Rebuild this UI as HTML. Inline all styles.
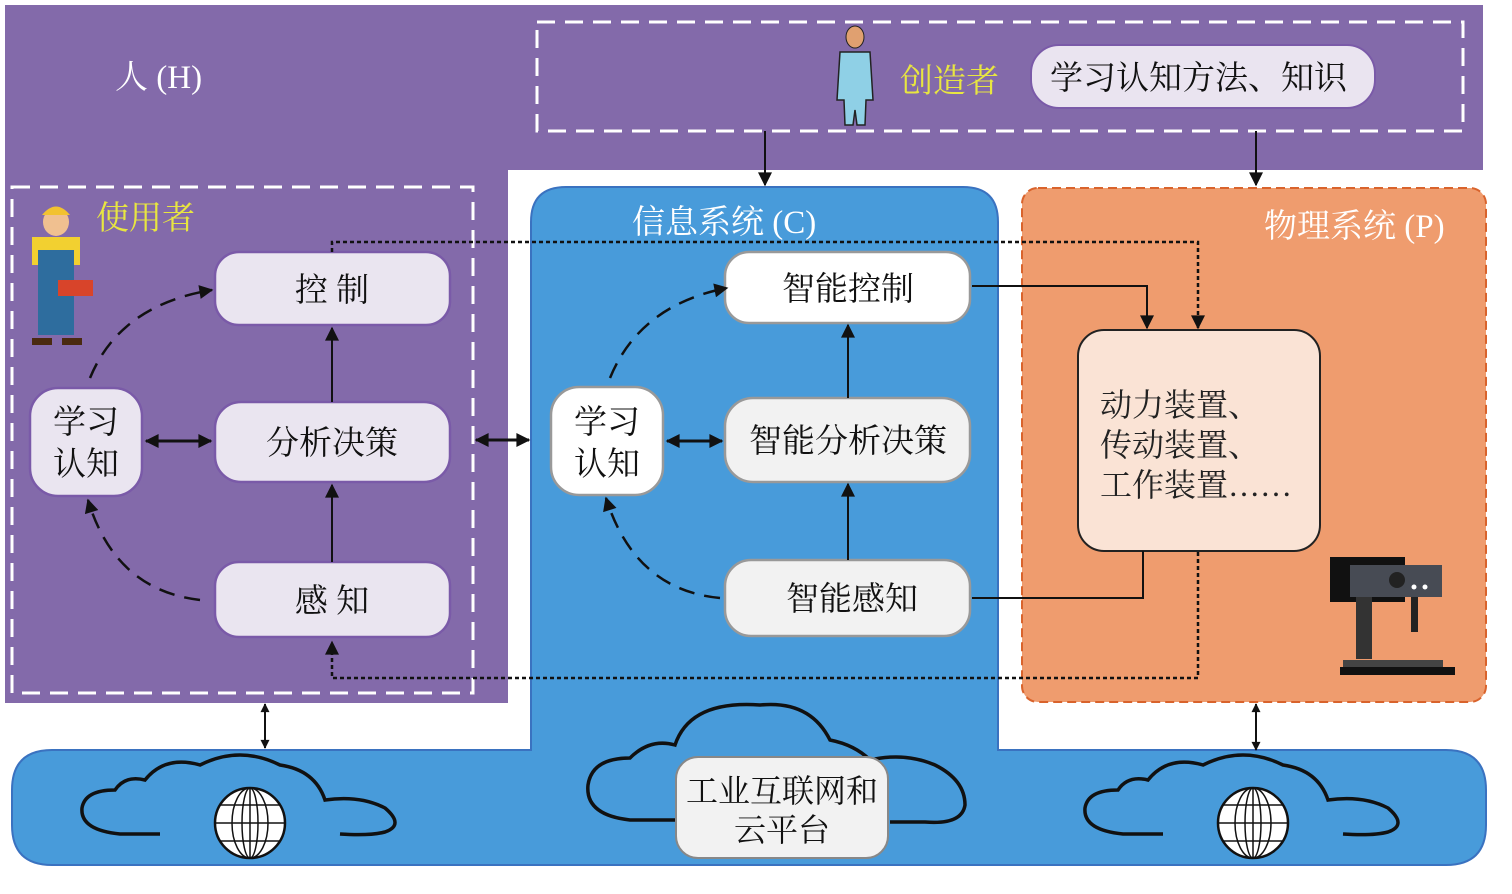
<!DOCTYPE html>
<html><head><meta charset="utf-8"><style>
html,body{margin:0;padding:0;background:#fff;width:1512px;height:894px;overflow:hidden}
text{font-family:"Liberation Serif","Noto Serif CJK SC",serif}
</style></head><body>
<svg width="1512" height="894" viewBox="0 0 1512 894" xmlns="http://www.w3.org/2000/svg">
<defs>
<marker id="b" viewBox="0 0 10 10" refX="9" refY="5" markerWidth="20" markerHeight="14" orient="auto-start-reverse" markerUnits="userSpaceOnUse"><path d="M0,0L10,5L0,10z" fill="#111"/></marker>
<marker id="c" viewBox="0 0 10 10" refX="9" refY="5" markerWidth="14" markerHeight="9" orient="auto-start-reverse" markerUnits="userSpaceOnUse"><path d="M0,0L10,5L0,10z" fill="#111"/></marker>
</defs>
<path d="M5,5H1483V170H508V703H5Z" fill="#836AAA"/>
<path d="M531,750V222Q531,187 566,187H963Q998,187 998,222V750H1446Q1486,750 1486,790V825Q1486,865 1446,865H52Q12,865 12,825V790Q12,750 52,750Z" fill="#489BDA" stroke="#3A72C0" stroke-width="2"/>
<rect x="1022" y="188" width="464" height="514" rx="16" fill="#EF9C6E" stroke="#D9632C" stroke-width="2" stroke-dasharray="9,5"/>
<rect x="537" y="22" width="926" height="109" fill="none" stroke="#fff" stroke-width="3" stroke-dasharray="18,10"/>
<rect x="12" y="187" width="461" height="506" fill="none" stroke="#fff" stroke-width="3" stroke-dasharray="18,10"/>
<text x="115" y="88" font-size="33" fill="#fff">人 (H)</text>
<text x="900" y="92" font-size="33" fill="#E8E640">创造者</text>
<text x="96" y="229" font-size="33" fill="#E8E640">使用者</text>
<text x="632" y="233" font-size="33" fill="#fff">信息系统 (C)</text>
<text x="1264" y="237" font-size="33" fill="#fff">物理系统 (P)</text>
<g>
<ellipse cx="855" cy="37" rx="9" ry="11" fill="#E0A070" stroke="#222"/>
<path d="M840,52H870L873,100H866L865,125H857L855,110L853,125H845L844,100H837Z" fill="#8FD0E6" stroke="#222" stroke-width="1.5"/>
</g>
<rect x="1031" y="45" width="344" height="63" rx="28" fill="#EAE4F0" stroke="#7A5AA8" stroke-width="2"/>
<text x="1050" y="89" font-size="33" fill="#111">学习认知方法、知识</text>
<g>
<ellipse cx="56" cy="222" rx="13" ry="14" fill="#F0C090"/>
<path d="M42,215Q56,198 70,215Z" fill="#F2C230"/>
<rect x="32" y="237" width="48" height="28" fill="#F2D030"/>
<rect x="38" y="250" width="36" height="85" fill="#2E6D9E"/>
<rect x="58" y="280" width="35" height="16" fill="#D8442A"/>
<rect x="32" y="338" width="20" height="7" fill="#4a2a10"/><rect x="62" y="338" width="20" height="7" fill="#4a2a10"/>
</g>
<g fill="#EAE5F0" stroke="#7A5AA8" stroke-width="2.5">
<rect x="215" y="252" width="235" height="73" rx="24"/>
<rect x="215" y="402" width="235" height="80" rx="26"/>
<rect x="215" y="562" width="235" height="75" rx="24"/>
<rect x="30" y="388" width="112" height="108" rx="28"/>
</g>
<g font-size="33" fill="#111" text-anchor="middle">
<text x="332" y="301">控 制</text>
<text x="332" y="454">分析决策</text>
<text x="332" y="612">感 知</text>
<text x="86" y="433">学习</text>
<text x="86" y="475">认知</text>
</g>
<g stroke="#999" stroke-width="2.5">
<rect x="725" y="252" width="245" height="71" rx="24" fill="#fff"/>
<rect x="725" y="398" width="245" height="84" rx="28" fill="#F2F2F2"/>
<rect x="725" y="560" width="245" height="76" rx="26" fill="#F2F2F2"/>
<rect x="551" y="387" width="112" height="108" rx="28" fill="#fff"/>
</g>
<g font-size="33" fill="#111" text-anchor="middle">
<text x="848" y="300">智能控制</text>
<text x="848" y="452">智能分析决策</text>
<text x="852" y="610">智能感知</text>
<text x="607" y="433">学习</text>
<text x="607" y="475">认知</text>
</g>
<rect x="1078" y="330" width="242" height="221" rx="26" fill="#FAE3D5" stroke="#222" stroke-width="2"/>
<g font-size="32" fill="#222"><text x="1100" y="416">动力装置、</text><text x="1100" y="456">传动装置、</text><text x="1100" y="496">工作装置……</text></g>
<g>
<rect x="1330" y="557" width="75" height="45" fill="#111"/>
<rect x="1350" y="565" width="92" height="32" fill="#474B54"/>
<circle cx="1397" cy="580" r="8" fill="#222"/>
<circle cx="1414" cy="587" r="2.5" fill="#fff"/><circle cx="1425" cy="587" r="2.5" fill="#fff"/>
<rect x="1356" y="597" width="16" height="62" fill="#333"/>
<rect x="1411" y="597" width="7" height="35" fill="#222"/>
<rect x="1343" y="660" width="100" height="8" fill="#444"/>
<rect x="1340" y="667" width="115" height="8" fill="#111"/>
</g>
<g stroke="#111" stroke-width="2" fill="none">
<line x1="332" y1="402" x2="332" y2="328" marker-end="url(#b)"/>
<line x1="332" y1="562" x2="332" y2="485" marker-end="url(#b)"/>
<line x1="848" y1="398" x2="848" y2="325" marker-end="url(#b)"/>
<line x1="848" y1="560" x2="848" y2="484" marker-end="url(#b)"/>
<line x1="146" y1="441" x2="211" y2="441" stroke-width="3" marker-start="url(#b)" marker-end="url(#b)"/>
<line x1="667" y1="441" x2="722" y2="441" stroke-width="3" marker-start="url(#b)" marker-end="url(#b)"/>
<line x1="476" y1="440" x2="529" y2="440" stroke-width="3" marker-start="url(#b)" marker-end="url(#b)"/>
<line x1="765" y1="131" x2="765" y2="185" marker-end="url(#b)"/>
<line x1="1256" y1="131" x2="1256" y2="185" marker-end="url(#b)"/>
<line x1="265" y1="704" x2="265" y2="748" marker-start="url(#c)" marker-end="url(#c)"/>
<line x1="1256" y1="704" x2="1256" y2="750" marker-start="url(#c)" marker-end="url(#c)"/>
<polyline points="972,286 1147,286 1147,328" marker-end="url(#b)"/>
<polyline points="972,598 1143,598 1143,551"/>
</g>
<g stroke="#111" stroke-width="2.5" fill="none" stroke-dasharray="4,3">
<polyline points="332,252 332,242 1198,242 1198,328" marker-end="url(#b)"/>
<polyline points="1198,552 1198,678 332,678 332,642" marker-end="url(#b)"/>
</g>
<g stroke="#111" stroke-width="2.5" fill="none" stroke-dasharray="16,10">
<path d="M90,378Q120,305 212,290" marker-end="url(#b)"/>
<path d="M200,600Q115,590 88,500" marker-end="url(#b)"/>
<path d="M610,378Q640,305 727,288" marker-end="url(#b)"/>
<path d="M720,598Q635,590 606,498" marker-end="url(#b)"/>
</g>
<g stroke="#111" stroke-width="3.5" fill="none">
<path d="M160,834H120Q80,830 82,808Q85,790 115,790Q125,775 145,780Q165,755 200,765Q240,745 280,765Q315,770 325,800Q360,795 385,808Q405,825 385,832Q370,836 340,834"/>
<path d="M1163,834H1123Q1083,830 1085,808Q1088,790 1118,790Q1128,775 1148,780Q1168,755 1203,765Q1243,745 1283,765Q1318,770 1328,800Q1363,795 1388,808Q1408,825 1388,832Q1373,836 1343,834"/>
<path d="M676,820H630Q585,815 588,785Q592,758 630,758Q650,738 675,745Q690,700 760,705Q810,700 830,740Q855,745 870,760Q905,752 935,765Q965,780 965,805Q962,825 925,822H890"/>
</g>
<g stroke="#111" stroke-width="2.5" fill="#fff">
<circle cx="250" cy="823" r="35"/><circle cx="1253" cy="823" r="35"/>
</g>
<g stroke="#111" stroke-width="1.5" fill="none">
<ellipse cx="250" cy="823" rx="18" ry="35"/><ellipse cx="250" cy="823" rx="8" ry="35"/><line x1="250" y1="788" x2="250" y2="858"/><line x1="215" y1="823" x2="285" y2="823"/><line x1="220" y1="805" x2="280" y2="805"/><line x1="220" y1="841" x2="280" y2="841"/>
<ellipse cx="1253" cy="823" rx="18" ry="35"/><ellipse cx="1253" cy="823" rx="8" ry="35"/><line x1="1253" y1="788" x2="1253" y2="858"/><line x1="1218" y1="823" x2="1288" y2="823"/><line x1="1223" y1="805" x2="1283" y2="805"/><line x1="1223" y1="841" x2="1283" y2="841"/>
</g>
<rect x="676" y="757" width="212" height="101" rx="22" fill="#F2F2F2" stroke="#888" stroke-width="2"/>
<g font-size="32" fill="#111" text-anchor="middle"><text x="782" y="802">工业互联网和</text><text x="782" y="841">云平台</text></g>
</svg>
</body></html>
